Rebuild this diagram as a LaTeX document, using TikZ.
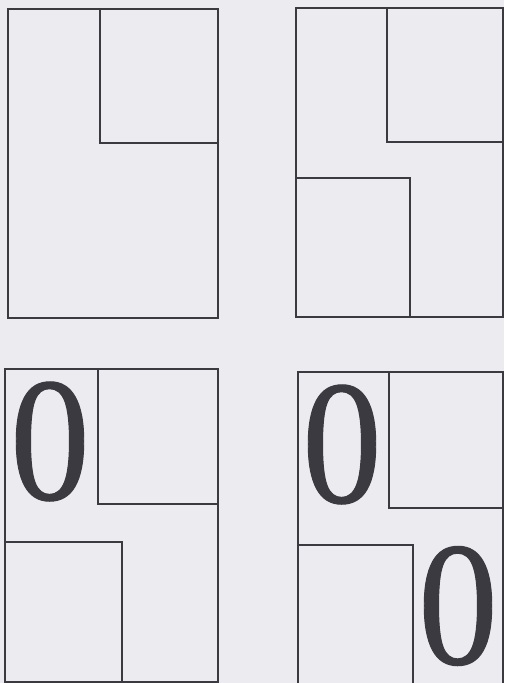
\documentclass[tikz,border=0pt]{standalone}
\usepackage{fontspec}
\newfontfamily\digitfont[FakeBold=0.6]{Liberation Serif}
\definecolor{paper}{RGB}{236,236,240}
\definecolor{ink}{RGB}{58,58,64}

\tikzset{
    room/.style={draw=ink, line width=2.4pt, line join=miter},
    zero/.style={text=ink, inner sep=0pt, xscale=0.9, font=\fontsize{177}{0}\selectfont\digitfont}
}

\begin{document}
\begin{tikzpicture}[x=1pt, y=-1pt]

    % background sheet
    \fill[paper] (0,0) rectangle (504,683);
    \useasboundingbox (0,0) rectangle (504,683);
    \clip (0,0) rectangle (504,683);

    % 1. top left: one block in the upper right corner
    \draw[room] (8,9) rectangle (218,318);
    \draw[room] (100,9) rectangle (218,143);

    % 2. top right: upper right and lower left blocks
    \draw[room] (296,8) rectangle (503,317);
    \draw[room] (387,8) rectangle (503,142);
    \draw[room] (296,178) rectangle (410,317);

    % 3. bottom left: same plan with one 0
    \draw[room] (5,369) rectangle (218,682);
    \draw[room] (98,369) rectangle (218,504);
    \draw[room] (5,542) rectangle (122,682);
    \node[zero] (zeroA) at (50,441.5) {0};

    % 4. bottom right: same plan with two 0s, cut at the lower edge
    \draw[room] (298,690) -- (298,372) -- (503,372) -- (503,690);
    \draw[room] (389,372) rectangle (503,508);
    \draw[room] (298,545) -- (413,545) -- (413,690);
    \node[zero] (zeroB) at (342,444.5) {0};
    \node[zero] (zeroC) at (458,606) {0};

\end{tikzpicture}
\end{document}
